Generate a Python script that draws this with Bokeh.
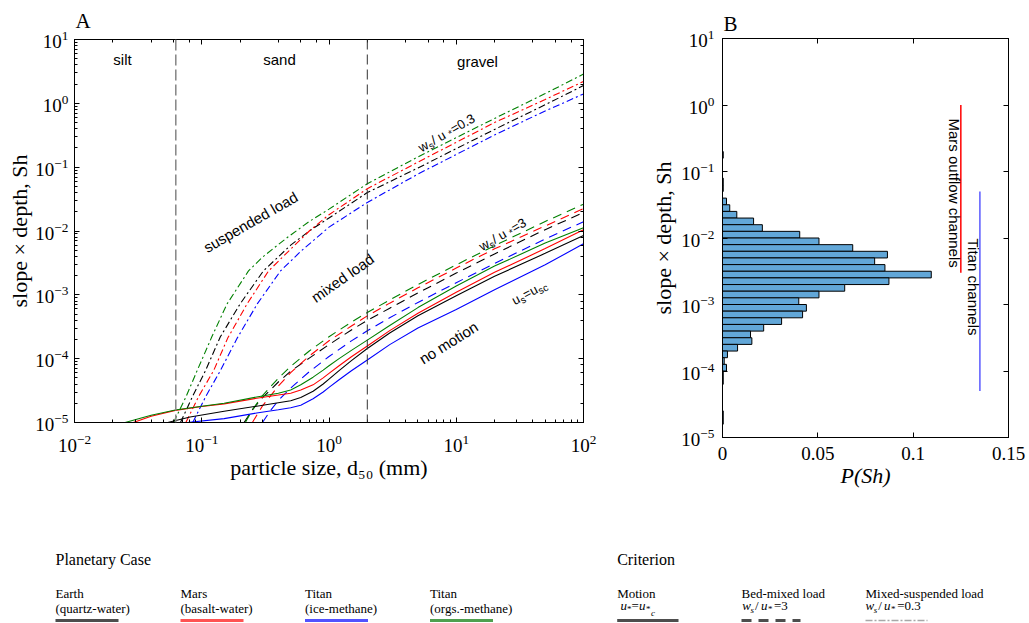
import math
from bokeh.plotting import figure
from bokeh.layouts import column, row
from bokeh.models import LogAxis, LinearAxis, Span, CustomJSTickFormatter, FixedTicker
from bokeh.core.properties import value
from bokeh.embed import file_html
from bokeh.resources import INLINE

# ---------------- data: panel A (d50 in mm, Sh) ----------------
# Motion threshold (u* = u*c), solid
earth_motion_d = [0.054, 0.081, 0.15, 0.27, 0.5, 0.6, 0.75, 0.9, 1.0, 1.2, 1.5, 2, 3, 5, 10, 20, 50, 100]
earth_motion_sh = [1.0e-5, 1.22e-5, 1.5e-5, 1.8e-5, 2.19e-5, 2.46e-5, 3.08e-5, 4.01e-5, 4.78e-5, 6.49e-5,
                   9.31e-5, 1.44e-4, 2.52e-4, 4.71e-4, 9.7e-4, 1.95e-3, 4.47e-3, 8.5e-3]
mars_motion_d = [0.029, 0.04, 0.062, 0.1, 0.15, 0.27, 0.4, 0.5, 0.6, 0.75, 0.9, 1.0, 1.2, 1.5, 2, 3, 5, 10, 20, 50, 100]
mars_motion_sh = [1.0e-5, 1.25e-5, 1.55e-5, 1.78e-5, 1.96e-5, 2.4e-5, 2.69e-5, 2.88e-5, 3.24e-5, 3.89e-5, 5.01e-5,
                  5.89e-5, 7.76e-5, 1.07e-4, 1.58e-4, 2.75e-4, 5.13e-4, 1.1e-3, 2.25e-3, 5.3e-3, 1.05e-2]
titan_ice_motion_d = [0.077, 0.15, 0.27, 0.4, 0.5, 0.6, 0.75, 0.9, 1.0, 1.2, 1.5, 2, 3, 5, 10, 20, 50, 100]
titan_ice_motion_sh = [1.0e-5, 1.15e-5, 1.41e-5, 1.58e-5, 1.7e-5, 1.86e-5, 2.35e-5, 3.0e-5, 3.55e-5, 4.68e-5,
                       6.46e-5, 9.55e-5, 1.66e-4, 3.02e-4, 5.89e-4, 1.2e-3, 2.95e-3, 6.31e-3]
titan_org_motion_d = [0.025, 0.04, 0.062, 0.1, 0.15, 0.27, 0.4, 0.5, 0.6, 0.75, 0.9, 1.0, 1.2, 1.5, 2, 3, 5, 10, 20, 50, 100]
titan_org_motion_sh = [1.0e-5, 1.3e-5, 1.57e-5, 1.8e-5, 2.0e-5, 2.51e-5, 2.88e-5, 3.24e-5, 3.89e-5, 5.13e-5, 6.61e-5,
                       7.76e-5, 1.0e-4, 1.35e-4, 1.95e-4, 3.31e-4, 6.31e-4, 1.38e-3, 2.82e-3, 6.46e-3, 1.12e-2]

# Bed-mixed load (ws/u* = 3), dashed
earth_mixed_d = [0.215, 0.25, 0.3, 0.4, 0.5, 0.7, 1, 1.5, 2, 3, 5, 10, 20, 50, 100]
earth_mixed_sh = [1.0e-5, 1.58e-5, 2.45e-5, 4.31e-5, 6.37e-5, 1.02e-4, 1.66e-4, 2.82e-4, 3.98e-4, 6.17e-4,
                  1.07e-3, 2.19e-3, 4.37e-3, 1.05e-2, 1.95e-2]
mars_mixed_d = [0.25, 0.3, 0.4, 0.5, 0.7, 1, 1.5, 2, 3, 5, 10, 20, 50, 100]
mars_mixed_sh = [1.0e-5, 1.82e-5, 3.72e-5, 6.03e-5, 1.1e-4, 1.91e-4, 3.24e-4, 4.68e-4, 7.41e-4, 1.29e-3,
                 2.63e-3, 5.25e-3, 1.2e-2, 2.24e-2]
titan_ice_mixed_d = [0.3, 0.35, 0.4, 0.5, 0.7, 1, 1.5, 2, 3, 5, 10, 20, 50, 100]
titan_ice_mixed_sh = [1.0e-5, 1.58e-5, 2.21e-5, 3.47e-5, 6.24e-5, 1.08e-4, 1.9e-4, 2.74e-4, 4.38e-4, 7.6e-4,
                      1.55e-3, 3.1e-3, 7.48e-3, 1.4e-2]
titan_org_mixed_d = [0.22, 0.25, 0.3, 0.4, 0.5, 0.7, 1, 1.5, 2, 3, 5, 10, 20, 50, 100]
titan_org_mixed_sh = [1.0e-5, 1.58e-5, 2.63e-5, 4.95e-5, 7.59e-5, 1.32e-4, 2.21e-4, 3.74e-4, 5.28e-4, 8.32e-4,
                      1.45e-3, 2.95e-3, 5.89e-3, 1.41e-2, 2.63e-2]

# Mixed-suspended load (ws/u* = 0.3), dash-dot
earth_susp_d = [0.068, 0.085, 0.107, 0.14, 0.2, 0.305, 0.5, 0.7, 1, 2, 5, 10, 20, 50, 100]
earth_susp_sh = [1.0e-5, 2.6e-5, 6.5e-5, 2.2e-4, 7.2e-4, 2.37e-3, 6.0e-3, 1.0e-2, 1.6e-2, 4.0e-2, 0.097, 0.195, 0.39, 0.95, 1.9]
mars_susp_d = [0.075, 0.095, 0.124, 0.16, 0.227, 0.335, 0.5, 0.7, 1, 2, 5, 10, 20, 50, 100]
mars_susp_sh = [1.0e-5, 2.6e-5, 6.5e-5, 2.1e-4, 7.2e-4, 2.37e-3, 5.2e-3, 1.0e-2, 1.8e-2, 4.6e-2, 0.12, 0.245, 0.5, 1.15, 2.2]
titan_ice_susp_d = [0.085, 0.108, 0.14, 0.19, 0.273, 0.416, 0.6, 1, 2, 5, 10, 20, 50, 100]
titan_ice_susp_sh = [1.0e-5, 2.6e-5, 6.5e-5, 2.1e-4, 7.2e-4, 2.37e-3, 4.8e-3, 1.15e-2, 2.8e-2, 7.8e-2, 0.158, 0.32, 0.76, 1.4]
titan_org_susp_d = [0.06, 0.075, 0.092, 0.12, 0.158, 0.233, 0.3, 0.47, 0.7, 1, 2, 5, 10, 20, 50, 100]
titan_org_susp_sh = [1.0e-5, 2.5e-5, 6.5e-5, 2.2e-4, 7.2e-4, 2.37e-3, 3.9e-3, 7.9e-3, 1.41e-2, 2.2e-2, 5.5e-2, 0.145,
                     0.29, 0.58, 1.42, 2.87]

grain_class_bounds = [0.0625, 2.0]   # silt/sand, sand/gravel (mm)

# ---------------- data: panel B ----------------
hist_bin_lower_exp = [-0.8, -1.2, -1.3, -1.5, -1.6, -1.7, -1.8, -1.9, -2.0, -2.1, -2.2, -2.3, -2.4,
                      -2.5, -2.6, -2.7, -2.8, -2.9, -3.0, -3.1, -3.2, -3.3, -3.4, -3.5, -3.6, -3.7,
                      -3.8, -3.9, -4.0, -4.1, -4.2, -4.7, -4.8]
hist_prob = [0.0004, 0.0004, 0.0004, 0.0021, 0.0038, 0.0075, 0.0163, 0.0209, 0.0405, 0.0506, 0.0683,
             0.0865, 0.0798, 0.0852, 0.1095, 0.0873, 0.0641, 0.0506, 0.0400, 0.0440, 0.0420, 0.0310,
             0.0216, 0.0147, 0.0154, 0.0079, 0.0026, 0.0009, 0.0021, 0.0004, 0.0004, 0.0004, 0.0004]
hist_bin_width_dec = 0.1
mars_channels_p = 0.125
mars_channels_sh = [3.0e-3, 1.0]
titan_channels_p = 0.135
titan_channels_sh = [5.0e-5, 5.0e-2]

# legend content
case_titles = ["Earth", "Mars", "Titan", "Titan"]
case_media = ["(quartz-water)", "(basalt-water)", "(ice-methane)", "(orgs.-methane)"]
case_colors = ["black", "red", "blue", "green"]
criterion_titles = ["Motion", "Bed-mixed load", "Mixed-suspended load"]

# ---------------- styling ----------------
COL = {"black": "#000000", "red": "#ff0000", "blue": "#0000ff", "green": "#008000"}
LEG_COL = {"black": "#4d4d4d", "red": "#ff5252", "blue": "#5252ff", "green": "#4fa04f"}
DASH_MIXED = "9 6"
DASH_SUSP = "7 3 2 3"
SERIF = "Liberation Serif"
SANS = "Liberation Sans"


def style_axis(ax, labels=True, minor=True, standoff=6):
    ax.major_tick_in = 5
    ax.major_tick_out = 0
    ax.minor_tick_in = 3
    ax.minor_tick_out = 0
    ax.axis_line_color = "black"
    ax.major_tick_line_color = "black"
    ax.minor_tick_line_color = "black" if minor else None
    ax.major_label_text_font = SERIF
    ax.major_label_text_font_size = "19px"
    ax.major_label_text_color = "black"
    ax.major_label_standoff = standoff
    ax.axis_label_text_font = SERIF
    ax.axis_label_text_font_size = "22px"
    ax.axis_label_text_font_style = "normal"
    ax.axis_label_text_color = "black"
    if not labels:
        ax.formatter = CustomJSTickFormatter(code="return ''")
        ax.major_label_standoff = 0
        ax.major_label_text_font_size = "0px"


def panel_title(p, txt, standoff):
    p.title.text = txt
    p.title.align = "left"
    p.title.offset = 1
    p.title.standoff = standoff
    p.title.text_font = SERIF
    p.title.text_font_size = "21px"
    p.title.text_font_style = "normal"
    p.title.text_color = "black"


# ---------------- panel A ----------------
pA = figure(width=640, height=500, x_axis_type="log", y_axis_type="log",
            x_range=(1e-2, 1e2), y_range=(1e-5, 10),
            toolbar_location=None, output_backend="svg",
            min_border_left=74, min_border_right=57, min_border_top=38, min_border_bottom=78)
pA.grid.visible = False
pA.outline_line_color = "black"
style_axis(pA.xaxis[0], standoff=12)
style_axis(pA.yaxis[0], standoff=6)
pA.xaxis[0].axis_label = "particle size, d\u2085\u2080 (mm)"
pA.xaxis[0].axis_label_standoff = 0
pA.yaxis[0].axis_label = "slope \u00d7 depth, Sh"
pA.yaxis[0].axis_label_standoff = 0
axA_top = LogAxis()
axA_right = LogAxis()
style_axis(axA_top, labels=False)
style_axis(axA_right, labels=False)
pA.add_layout(axA_top, "above")
pA.add_layout(axA_right, "right")
panel_title(pA, "A", 13)

# class boundaries
pA.add_layout(Span(location=grain_class_bounds[0], dimension="height", line_color="#8a8a8a",
                   line_dash="11 4", line_width=1.6))
pA.add_layout(Span(location=grain_class_bounds[1], dimension="height", line_color="#333333",
                   line_dash="10 5", line_width=1))

series = [
    (earth_susp_d, earth_susp_sh, "black", DASH_SUSP), (mars_susp_d, mars_susp_sh, "red", DASH_SUSP),
    (titan_ice_susp_d, titan_ice_susp_sh, "blue", DASH_SUSP), (titan_org_susp_d, titan_org_susp_sh, "green", DASH_SUSP),
    (earth_mixed_d, earth_mixed_sh, "black", DASH_MIXED), (mars_mixed_d, mars_mixed_sh, "red", DASH_MIXED),
    (titan_ice_mixed_d, titan_ice_mixed_sh, "blue", DASH_MIXED), (titan_org_mixed_d, titan_org_mixed_sh, "green", DASH_MIXED),
    (earth_motion_d, earth_motion_sh, "black", "solid"), (mars_motion_d, mars_motion_sh, "red", "solid"),
    (titan_ice_motion_d, titan_ice_motion_sh, "blue", "solid"), (titan_org_motion_d, titan_org_motion_sh, "green", "solid"),
]
for d, sh, c, dash in series:
    pA.line(d, sh, line_color=COL[c], line_width=1.1, line_dash=dash)


def convA(px, py):
    return 10 ** ((px - 74) / 127.25 - 2), 10 ** (1 - (py - 38) / 64.0)


def convB(px, py):
    return (px - 722) / 1906.7, 10 ** (1 - (py - 38) / 66.5)


def put_text(p, conv, px, py, txt, size, font=SANS, angle=0.0, align="center", baseline="middle", style="normal"):
    x, y = conv(px, py)
    p.text(x=[x], y=[y], text=[txt], angle=math.radians(angle), text_font=value(font),
           text_font_size=f"{size}px", text_font_style=style, text_align=align,
           text_baseline=baseline, text_color="black")


def rot_pieces(p, conv, x0, y0, ang, pieces):
    th = math.radians(ang)
    c, s = math.cos(th), math.sin(th)
    for txt, size, along, down in pieces:
        px = x0 + along * c + down * s
        py = y0 - along * s + down * c
        put_text(p, conv, px, py, txt, size, angle=ang, align="left", baseline="alphabetic")


put_text(pA, convA, 122, 58, "silt", 15)
put_text(pA, convA, 279, 58, "sand", 15)
put_text(pA, convA, 477, 60, "gravel", 15)
put_text(pA, convA, 250, 221, "suspended load", 15, angle=30)
put_text(pA, convA, 342, 277, "mixed load", 15, angle=35)
put_text(pA, convA, 448, 342, "no motion", 15, angle=32)
rot_pieces(pA, convA, 418.7, 147.3, 30, [("w", 13, 0, 0), ("s", 10, 9.6, 3.5), (" / u", 13, 14.8, 0),
                                         ("*", 10, 33.0, 2.5), ("=0.3", 13, 37.2, 0)])
rot_pieces(pA, convA, 479.5, 246.5, 30, [("w", 13, 0, 0), ("s", 10, 9.6, 3.5), (" / u", 13, 14.8, 0),
                                         ("*", 10, 33.0, 2.5), ("=3", 13, 37.2, 0)])
rot_pieces(pA, convA, 512.1, 300.4, 28, [("u", 13, 0, 0), ("s", 10, 7.4, 3.5), ("=u", 13, 12.6, 0),
                                         ("sc", 10, 27.6, 3.5)])

# ---------------- panel B ----------------
pB = figure(width=389, height=500, y_axis_type="log", x_range=(0, 0.15), y_range=(1e-5, 10),
            toolbar_location=None, output_backend="svg",
            min_border_left=82, min_border_right=21, min_border_top=38, min_border_bottom=63)
pB.grid.visible = False
pB.outline_line_color = "black"
pB.xaxis[0].ticker = FixedTicker(ticks=[0, 0.05, 0.1, 0.15], minor_ticks=[])
pB.xaxis[0].formatter = CustomJSTickFormatter(code="return tick == 0 ? '0' : String(Math.round(tick*100)/100)")
style_axis(pB.xaxis[0], minor=False, standoff=9)
style_axis(pB.yaxis[0], minor=False, standoff=8)
pB.xaxis[0].axis_label = "P(Sh)"
pB.xaxis[0].axis_label_text_font_style = "italic"
pB.xaxis[0].axis_label_standoff = 0
pB.yaxis[0].axis_label = "slope \u00d7 depth, Sh"
pB.yaxis[0].axis_label_standoff = 2
axB_top = LinearAxis(ticker=FixedTicker(ticks=[0, 0.05, 0.1, 0.15], minor_ticks=[]))
axB_right = LogAxis()
style_axis(axB_top, labels=False, minor=False)
style_axis(axB_right, labels=False, minor=False)
pB.add_layout(axB_top, "above")
pB.add_layout(axB_right, "right")
panel_title(pB, "B", 5)

for p in (pA, pB):
    try:
        p.frame_align = False
    except Exception:
        pass

bin_bottom = [10 ** e for e in hist_bin_lower_exp]
bin_top = [10 ** (e + hist_bin_width_dec) for e in hist_bin_lower_exp]
pB.quad(left=[0] * len(hist_prob), right=hist_prob, bottom=bin_bottom, top=bin_top,
        fill_color="#62a7d8", line_color="black", line_width=1)

pB.line([mars_channels_p, mars_channels_p], mars_channels_sh, line_color="#ff0000", line_width=1.5)
pB.line([titan_channels_p, titan_channels_p], titan_channels_sh, line_color="#5a5aff", line_width=1.5)
put_text(pB, convB, 954, 118, "Mars outflow channels", 15, angle=-90, align="left")
put_text(pB, convB, 973, 238, "Titan channels", 15, angle=-90, align="left")

# ---------------- legend strip ----------------
lf = figure(width=1029, height=123, x_range=(0, 1029), y_range=(623, 500),
            toolbar_location=None, output_backend="svg", x_axis_location=None, y_axis_location=None,
            min_border=0)
lf.grid.visible = False
lf.outline_line_color = None


def ltext(x, y, txt, size=13, style="normal"):
    lf.text(x=[x], y=[y], text=[txt], text_font=value(SERIF), text_font_size=f"{size}px",
            text_font_style=style, text_align="left", text_baseline="alphabetic", text_color="black")


ltext(55, 559, "Planetary Case", 16)
case_x = [55, 180, 304.5, 429.5]
for i in range(4):
    ltext(case_x[i], 592.5, case_titles[i])
    ltext(case_x[i], 608, case_media[i])
    lf.line([case_x[i], case_x[i] + 63], [620, 620], line_color=LEG_COL[case_colors[i]], line_width=3)

ltext(616.7, 559, "Criterion", 16)
crit_x = [616.7, 741, 865]
for i in range(3):
    ltext(crit_x[i], 592.5, criterion_titles[i])
# formulas
ltext(620, 605, "u", 13, "italic"); ltext(626.5, 608, "*", 9); ltext(631, 605, "=", 13)
ltext(638.5, 605, "u", 13, "italic"); ltext(645.5, 608, "*", 9); ltext(650.5, 612, "c", 9, "italic")
ltext(741.7, 605, "w", 13, "italic"); ltext(750, 609, "s", 9, "italic"); ltext(754.5, 605, "/", 13)
ltext(760.5, 605, "u", 13, "italic"); ltext(767.5, 608, "*", 9); ltext(773.5, 605, "=3", 13)
ltext(865, 605, "w", 13, "italic"); ltext(873.3, 609, "s", 9, "italic"); ltext(877.8, 605, "/", 13)
ltext(883.5, 605, "u", 13, "italic"); ltext(890.5, 608, "*", 9); ltext(896.7, 605, "=0.3", 13)
lf.line([616.7, 678], [620, 620], line_color="#4d4d4d", line_width=3)
lf.line([741, 800], [620, 620], line_color="#4d4d4d", line_width=3, line_dash="10 7")
lf.line([865, 927], [620, 620], line_color="#a8a8a8", line_width=1.5, line_dash="7 2 2 2")

layout = column(row(pA, pB), lf)
open("out.html", "w").write(file_html(layout, INLINE))
